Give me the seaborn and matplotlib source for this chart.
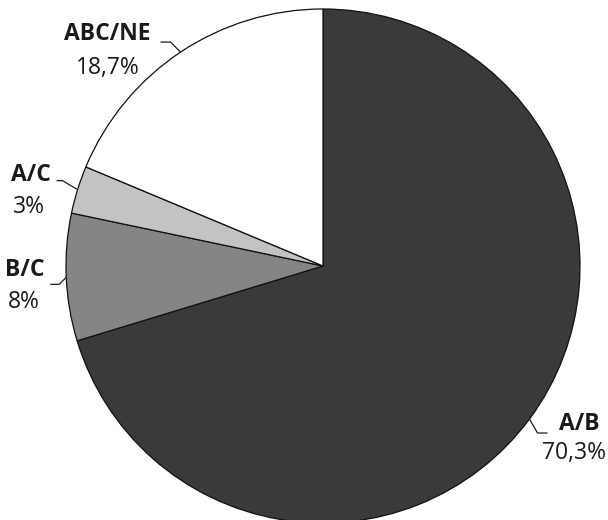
import numpy as np
import matplotlib
matplotlib.use("Agg")
import matplotlib.pyplot as plt
import seaborn as sns

# --- data ---
labels = ["A/B", "B/C", "A/C", "ABC/NE"]
values = [70.3, 8, 3, 18.7]
pct_labels = ["70,3%", "8%", "3%", "18,7%"]
colors = ["#3a3a3a", "#858585", "#c3c3c3", "#ffffff"]

sns.set_theme(style="white")
plt.rcParams['font.family'] = ['Open Sans', 'DejaVu Sans']

W, H = 608, 520
cx, cy, R = 323, 266, 257  # pie centre / radius in pixels

fig = plt.figure(figsize=(W / 100, H / 100), dpi=100)
ax = fig.add_axes([0, 0, 1, 1])

wedges, _ = ax.pie(values, colors=colors, startangle=90, counterclock=False,
                   radius=1, center=(0, 0),
                   wedgeprops=dict(edgecolor="#111111", linewidth=0.9))
ax.set_xlim(-cx / R, (W - cx) / R)
ax.set_ylim(-(H - cy) / R, cy / R)
ax.set_aspect("equal")
ax.axis("off")

# label layout, offsets in pixels from the wedge's edge point (x right, y down)
layout = {
    "ABC/NE": dict(name=(-73, -18), pct=(-73, 16), elbow=(-10, -10), end=(-20, -10)),
    "A/C": dict(name=(-47, -15), pct=(-49, 17), elbow=(-15, -9), end=(-21, -9)),
    "B/C": dict(name=(-41, -7), pct=(-42, 25), elbow=(-7, 7), end=(-16, 7)),
    "A/B": dict(name=(50, 5), pct=(45, 34), elbow=(8, 14), end=(18, 14)),
}

def px(p):
    return p[0] / R, -p[1] / R

for w, lab, pct in zip(wedges, labels, pct_labels):
    theta = np.deg2rad((w.theta1 + w.theta2) / 2)
    ex, ey = np.cos(theta), np.sin(theta)
    lay = layout[lab]
    bx, by = px(lay["elbow"])
    tx, ty = px(lay["end"])
    ax.plot([ex, ex + bx, ex + tx], [ey, ey + by, ey + ty], color="#1a1a1a", lw=0.9,
            solid_capstyle="butt", clip_on=False)
    nx, ny = px(lay["name"])
    ax.text(ex + nx, ey + ny, lab, ha="center", va="center", fontsize=16.5,
            fontweight="bold", color="#1a1a1a")
    qx, qy = px(lay["pct"])
    ax.text(ex + qx, ey + qy, pct, ha="center", va="center", fontsize=16.5,
            color="#1a1a1a")

fig.savefig("out.png", dpi=100, facecolor="white")
